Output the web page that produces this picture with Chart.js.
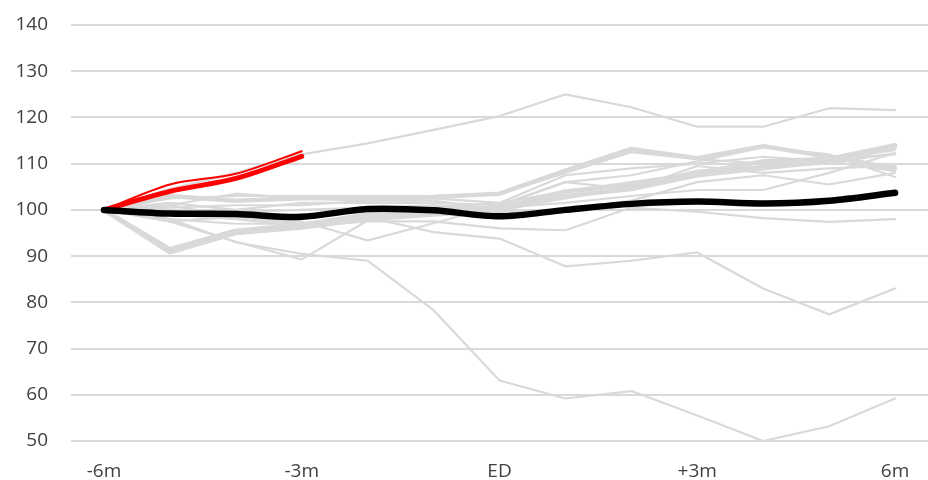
<!DOCTYPE html>
<html>
<head>
<meta charset="utf-8">
<script src="https://cdn.jsdelivr.net/npm/chart.js@4.4.1/dist/chart.umd.min.js"></script>
<style>
  html, body { margin: 0; padding: 0; background: #ffffff; }
  #wrap { width: 928px; height: 480px; }
</style>
</head>
<body>
<div id="wrap"><canvas id="c" width="928" height="480"></canvas></div>
<script>
// ---- data ----
const xLabels = ['-6m', '', '', '-3m', '', '', 'ED', '', '', '+3m', '', '', '6m'];
const yTicks = [50, 60, 70, 80, 90, 100, 110, 120, 130, 140];

const averageSeries = [100, 99.2, 99.1, 98.5, 100.2, 99.9, 98.6, 100, 101.3, 101.8, 101.4, 102, 103.7];
const currentA = [100, 104, 106.8, 111.6];
const currentB = [100, 105.5, 107.8, 112.7];

const grey01 = [100, 104.5, 108, 112, 114.4, 117.3, 120.3, 125, 122.2, 118, 118, 122, 121.6];
const grey02 = [100, 98, 93, 90.5, 89, 78.3, 63.1, 59.2, 60.8, 55.5, 50, 53.2, 59.2];
const grey03 = [100, 97.5, 93.1, 89.3, 97.7, 100.5, 101.5, 104, 106, 108, 109.5, 110, 112.3];
const grey04 = [100, 101, 98.5, 97, 98.4, 95.2, 93.8, 87.8, 89, 90.8, 83, 77.4, 83];
const grey05 = [100, 99, 98, 96.5, 97.5, 97.5, 96, 95.6, 100.5, 99.6, 98.2, 97.4, 98];
const grey06 = [100, 91.5, 95.5, 96.8, 99, 100, 100.5, 104, 105.5, 108, 110.5, 111, 114];
const grey07 = [100, 90.8, 95, 96.2, 98, 99, 100, 103, 104.5, 107.5, 109, 110.5, 113.6];
const grey08 = [100, 102.5, 103, 103, 103, 103, 103.5, 108, 112.5, 111, 110, 111, 112];
const grey09 = [100, 103, 102, 102.5, 102.5, 102.8, 103.5, 108.5, 113.2, 111.2, 113.8, 111.5, 109];
const grey10 = [100, 101, 103.5, 102.5, 102, 102.5, 101.5, 107.5, 109, 110, 111.5, 110.5, 108.4];
const grey11 = [100, 101.5, 100, 101.5, 101.5, 101.5, 101, 106, 107.5, 110.5, 113.5, 112, 107.1];
const grey12 = [100, 100.5, 101, 101, 102, 102, 100, 102.5, 105, 108.5, 109.5, 111, 112.9];
const grey13 = [100, 99, 99.5, 100, 100.5, 101, 100.5, 101.5, 103, 104.3, 104.3, 108, 112.3];
const grey14 = [100, 98, 97, 97, 98.5, 99.5, 99.5, 100, 102, 106, 107.5, 105.5, 108];
const grey15 = [100, 97.5, 98.5, 97.5, 93.4, 97.1, 101, 106, 104.5, 109.5, 108, 109, 109.5];

const greyThin = [grey01, grey02, grey03, grey04, grey05, grey08, grey10, grey11, grey12, grey13, grey14, grey15];
const greyThick = [grey06, grey07, grey09];

// ---- styling ----
const GREY = '#d9d9d9';
const datasets = [];
greyThin.forEach(d => datasets.push({
  data: d, borderColor: GREY, borderWidth: 2.2, pointRadius: 0, tension: 0, order: 3,
  borderJoinStyle: 'round', borderCapStyle: 'round'
}));
greyThick.forEach(d => datasets.push({
  data: d, borderColor: GREY, borderWidth: 4.5, pointRadius: 0, tension: 0, order: 3,
  borderJoinStyle: 'round', borderCapStyle: 'round'
}));
datasets.push({ data: currentA, borderColor: '#ff0000', borderWidth: 5, pointRadius: 0, tension: 0.3, order: 2, borderCapStyle: 'round', borderJoinStyle: 'round' });
datasets.push({ data: currentB, borderColor: '#ff0000', borderWidth: 2, pointRadius: 0, tension: 0.3, order: 2, borderCapStyle: 'round', borderJoinStyle: 'round' });
datasets.push({ data: averageSeries, borderColor: '#000000', borderWidth: 6.5, pointRadius: 0, tension: 0.3, order: 1, borderCapStyle: 'round', borderJoinStyle: 'round' });

const FONT = { family: '"Open Sans", "Liberation Sans", sans-serif', size: 19 };

new Chart(document.getElementById('c'), {
  type: 'line',
  data: { labels: xLabels, datasets },
  options: {
    responsive: false,
    animation: false,
    layout: { padding: { top: 25, right: 0, bottom: 0, left: 0 } },
    plugins: { legend: { display: false }, tooltip: { enabled: false } },
    scales: {
      x: {
        offset: true,
        grid: { display: false, drawTicks: false },
        border: { display: false },
        ticks: { color: '#404040', font: FONT, padding: 19, autoSkip: false, maxRotation: 0 },
        afterFit: s => { s.height = 39; s.paddingLeft = 0; s.paddingRight = 0; }
      },
      y: {
        min: 50, max: 140,
        afterBuildTicks: s => { s.ticks = yTicks.map(v => ({ value: v })); },
        grid: { color: GREY, lineWidth: 2, drawTicks: false },
        border: { display: false },
        ticks: { color: '#404040', font: FONT, padding: 23 },
        afterFit: s => { s.width = 71; s.paddingTop = 0; s.paddingBottom = 0; }
      }
    }
  }
});
</script>
</body>
</html>
